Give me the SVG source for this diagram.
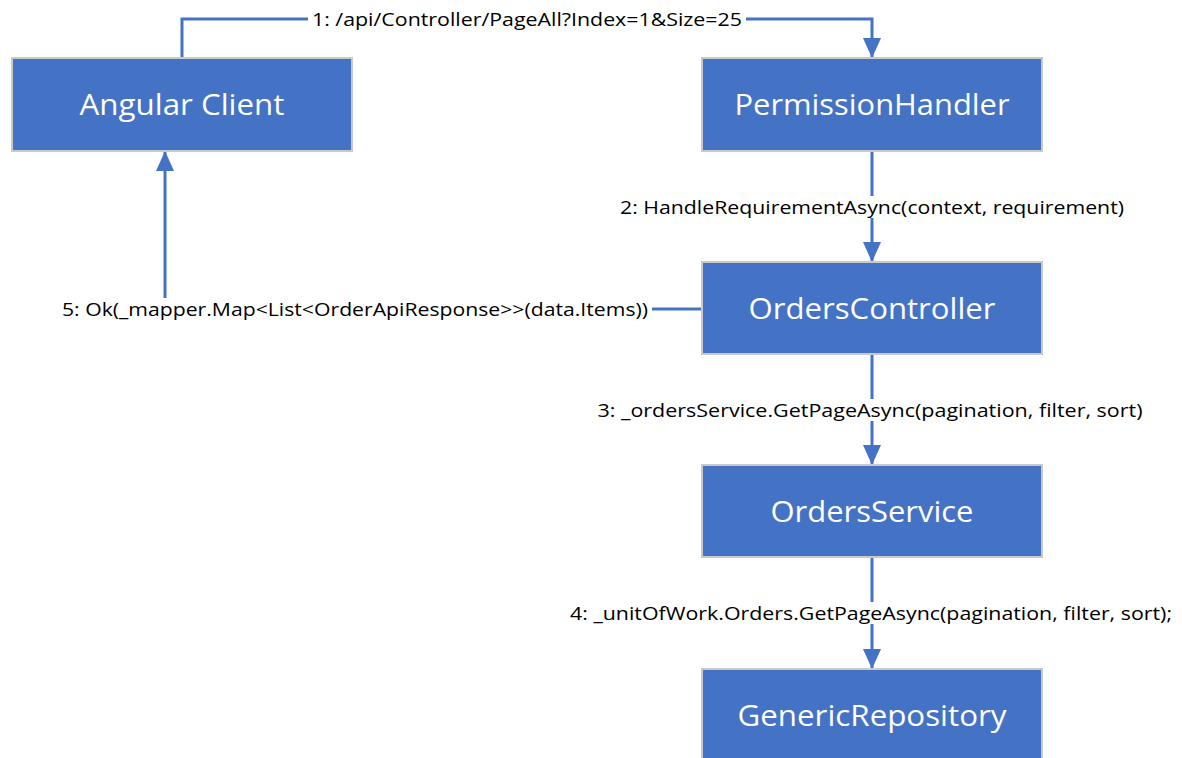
<svg xmlns="http://www.w3.org/2000/svg" width="1182" height="758" viewBox="0 0 1182 758">
<style>
.node{fill:#4472C4;stroke:#C9C9C9;stroke-width:2}
.nt{font-family:"Open Sans","Noto Sans",sans-serif;font-size:30px;fill:#fff;text-anchor:middle}
.lbl{font-family:"Open Sans","Noto Sans",sans-serif;font-size:18px;fill:#000;text-anchor:middle}
.edge{fill:none;stroke:#4472C4;stroke-width:3}
.bg{fill:#fff}
</style>
<defs>
<marker id="arr" viewBox="0 0 20 18" refX="20" refY="9" markerWidth="20" markerHeight="18" markerUnits="userSpaceOnUse" orient="auto">
<path d="M0,0 L20,9 L0,18 Z" fill="#4472C4"/>
</marker>
</defs>
<rect width="1182" height="758" fill="#fff"/>
<g id="connectors">
<path class="edge" d="M182,58 V19 H872 V58" marker-end="url(#arr)"/>
<rect class="bg" x="308" y="8" width="438" height="22"/>
<text class="lbl" x="527" y="26" textLength="430" lengthAdjust="spacingAndGlyphs">1: /api/Controller/PageAll?Index=1&amp;Size=25</text>
<path class="edge" d="M872,151 V262" marker-end="url(#arr)"/>
<rect class="bg" x="616" y="196" width="512" height="22"/>
<text class="lbl" x="872" y="214" textLength="504" lengthAdjust="spacingAndGlyphs">2: HandleRequirementAsync(context, requirement)</text>
<path class="edge" d="M872,354 V465" marker-end="url(#arr)"/>
<rect class="bg" x="594" y="399" width="553" height="22"/>
<text class="lbl" x="870" y="417" textLength="545" lengthAdjust="spacingAndGlyphs">3: _ordersService.GetPageAsync(pagination, filter, sort)</text>
<path class="edge" d="M872,557 V669" marker-end="url(#arr)"/>
<rect class="bg" x="566" y="602" width="610" height="22"/>
<text class="lbl" x="871" y="620" textLength="602" lengthAdjust="spacingAndGlyphs">4: _unitOfWork.Orders.GetPageAsync(pagination, filter, sort);</text>
<path class="edge" d="M702,309 H165 V151" marker-end="url(#arr)"/>
<rect class="bg" x="58" y="298" width="594" height="22"/>
<text class="lbl" x="355" y="316" textLength="586" lengthAdjust="spacingAndGlyphs">5: Ok(_mapper.Map&lt;List&lt;OrderApiResponse&gt;&gt;(data.Items))</text>
</g>
<g id="angular-client">
<rect class="node" x="12" y="58" width="340" height="93"/>
<text class="nt" x="182" y="115" textLength="205" lengthAdjust="spacingAndGlyphs">Angular Client</text>
</g>
<g id="permission-handler">
<rect class="node" x="702" y="58" width="340" height="93"/>
<text class="nt" x="872" y="115" textLength="275" lengthAdjust="spacingAndGlyphs">PermissionHandler</text>
</g>
<g id="orders-controller">
<rect class="node" x="702" y="262" width="340" height="92"/>
<text class="nt" x="872" y="319" textLength="247" lengthAdjust="spacingAndGlyphs">OrdersController</text>
</g>
<g id="orders-service">
<rect class="node" x="702" y="465" width="340" height="92"/>
<text class="nt" x="872" y="522" textLength="203" lengthAdjust="spacingAndGlyphs">OrdersService</text>
</g>
<g id="generic-repository">
<rect class="node" x="702" y="669" width="340" height="92"/>
<text class="nt" x="872" y="726" textLength="269" lengthAdjust="spacingAndGlyphs">GenericRepository</text>
</g>
</svg>
